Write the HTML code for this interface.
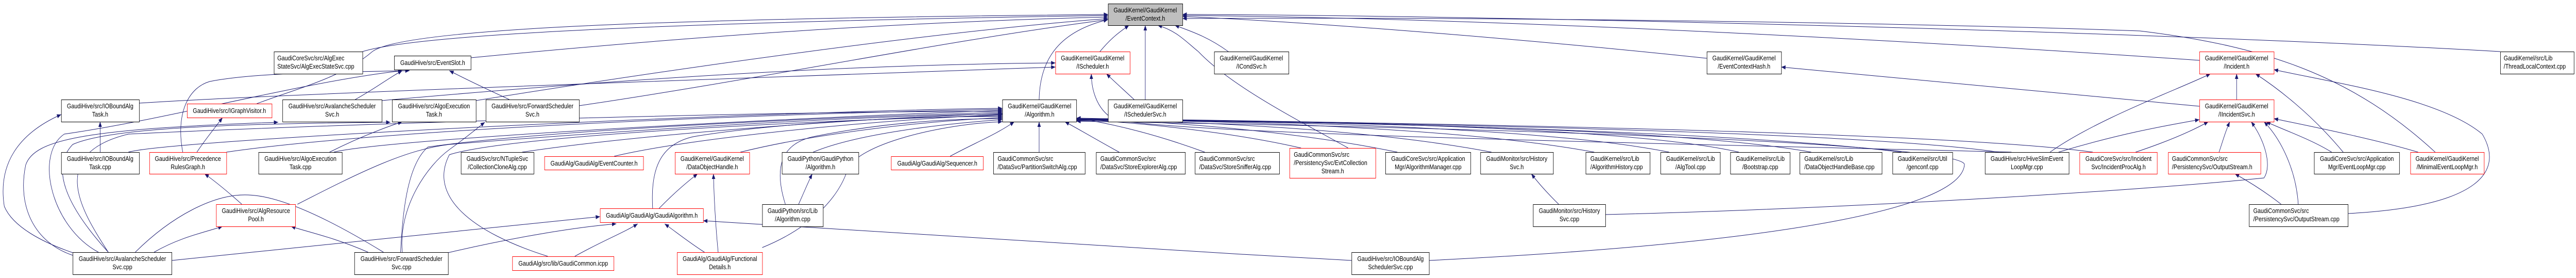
<!DOCTYPE html>
<html><head><meta charset="utf-8"><style>
html,body{margin:0;padding:0;background:#fff;width:100%;height:100%;overflow:hidden;}
svg{display:block;width:100vw;height:100vh;}
text{font-family:"Liberation Sans",Arial,sans-serif;font-size:13px;fill:#000;}
.b{fill:#fff;stroke:#000;stroke-width:1;}
.r{fill:#fff;stroke:#ff0000;stroke-width:1;}
.g{fill:#bfbfbf;stroke:#000;stroke-width:1;}
.e{fill:none;stroke:#191970;stroke-width:1;}
</style></head><body>
<svg viewBox="0 0 6019 539" preserveAspectRatio="none" xmlns="http://www.w3.org/2000/svg">
<defs><marker id="a" markerUnits="userSpaceOnUse" markerWidth="11" markerHeight="8" refX="10" refY="4" orient="auto"><path d="M0,0 L10,4 L0,8 z" fill="#191970"/></marker></defs>
<rect width="6019" height="539" fill="#fff"/>
<g class="e" marker-end="url(#a)">
<path d="M2570,100 C2600,70 2620,60 2638,49"/>
<path d="M2676,193 L2676,49"/>
<path d="M2428,193 C2430,110 2480,60 2589,38"/>
<path d="M2870,100 C2820,70 2780,60 2745,49"/>
<path d="M3150,287 C3050,240 2880,170 2800,100 C2770,80 2750,60 2705,49"/>
<path d="M847,100 C1000,60 1800,40 2589,30"/>
<path d="M1100,112 C1500,80 2000,45 2589,33"/>
<path d="M600,201 C700,170 800,150 870,100 C950,50 1700,35 2589,28"/>
<path d="M1112,195 C1600,130 2200,60 2589,36"/>
<path d="M1353,205 C1800,150 2200,80 2589,38"/>
<path d="M325,200 C700,180 1800,150 2466,130"/>
<path d="M892,195 C1500,150 2000,125 2466,122"/>
<path d="M3988,113 C3500,70 3000,40 2763,32"/>
<path d="M5139,117 C4500,80 3500,35 2763,30"/>
<path d="M5842,100 C5000,60 3500,30 2763,28"/>
<path d="M5690,295 C5500,150 5300,90 5000,60 C4500,45 3500,32 2763,36"/>
<path d="M2650,193 C2620,170 2600,155 2585,143"/>
<path d="M4700,295 C4000,280 2700,260 2600,230 C2560,210 2550,170 2550,143"/>
<path d="M5139,206 C4700,170 4300,140 4162,130"/>
<path d="M5226,193 L5226,143"/>
<path d="M5475,295 C5400,220 5320,170 5270,143"/>
<path d="M5486,414 C5800,400 5850,330 5800,260 C5700,190 5450,160 5313,135"/>
<path d="M4790,295 C4900,230 5100,170 5165,143"/>
<path d="M4810,295 C4950,260 5050,245 5139,232"/>
<path d="M4990,295 C5080,270 5130,250 5160,236"/>
<path d="M5185,295 C5195,270 5200,255 5210,236"/>
<path d="M5370,396 C5365,330 5330,270 5290,236"/>
<path d="M3751,416 C4300,405 5000,370 5290,345 C5310,320 5290,270 5260,236"/>
<path d="M5448,295 C5400,270 5330,250 5295,236"/>
<path d="M5650,295 C5550,270 5400,245 5313,230"/>
<path d="M5330,396 C5290,370 5250,350 5222,337"/>
<path d="M2220,303 C2270,280 2330,260 2370,236"/>
<path d="M2428,295 L2428,236"/>
<path d="M2615,295 C2560,270 2520,250 2488,236"/>
<path d="M2815,295 C2700,260 2600,240 2515,229"/>
<path d="M3040,287 C2900,260 2700,240 2515,231"/>
<path d="M3265,295 C3000,250 2700,235 2515,230"/>
<path d="M3485,295 C3200,250 2800,235 2515,232"/>
<path d="M3725,295 C3400,245 2800,232 2515,233"/>
<path d="M3900,295 C3600,245 2900,232 2515,234"/>
<path d="M4063,295 C3800,245 3000,232 2515,233"/>
<path d="M4232,295 C3900,245 3000,235 2515,232"/>
<path d="M4443,295 C4000,250 3000,235 2515,231"/>
<path d="M4670,295 C4300,250 3000,236 2515,230"/>
<path d="M4890,295 C4500,250 3000,236 2515,229"/>
<path d="M1900,295 C2000,260 2200,240 2342,232"/>
<path d="M1835,396 C1810,330 1820,280 1900,265 C2050,240 2200,230 2342,230"/>
<path d="M1730,295 C1900,260 2150,235 2342,228"/>
<path d="M1525,404 C1520,330 1540,280 1620,265 C1800,240 2100,225 2342,226"/>
<path d="M1435,303 C1600,270 2000,235 2342,222"/>
<path d="M1220,295 C1500,260 2000,230 2342,220"/>
<path d="M1781,480 C1900,440 1960,380 1980,330 C2000,280 2200,240 2342,236"/>
<path d="M780,295 C900,270 1800,230 2342,214"/>
<path d="M529,295 C900,250 1800,220 2342,212"/>
<path d="M300,295 C400,270 1800,215 2342,210"/>
<path d="M936,489 C940,420 950,320 1000,285 C1300,250 2000,225 2342,218"/>
<path d="M253,489 C200,420 100,300 300,260 C800,240 1800,215 2342,216"/>
<path d="M1280,497 C1100,450 1000,380 1050,300 C1200,260 2000,230 2342,224"/>
<path d="M695,396 C850,330 950,290 1050,280 C1500,250 2000,225 2342,221"/>
<path d="M234,295 L234,236"/>
<path d="M170,490 C100,470 30,440 10,400 C-5,320 40,260 143,222"/>
<path d="M170,495 C80,470 40,400 60,320 C80,270 200,250 650,237"/>
<path d="M253,489 C200,440 100,340 170,280 C250,250 500,240 912,237"/>
<path d="M230,489 C120,440 80,300 150,260 C400,230 700,160 940,137"/>
<path d="M401,505 C800,470 1200,440 1402,420"/>
<path d="M360,489 C420,460 480,450 520,439"/>
<path d="M860,489 C780,460 720,450 680,439"/>
<path d="M1047,490 C1200,460 1350,440 1440,434"/>
<path d="M940,489 C930,400 1000,320 1050,290 C1100,260 1120,245 1133,237"/>
<path d="M1190,193 C1130,170 1080,150 1050,137"/>
<path d="M830,193 C880,170 910,150 940,137"/>
<path d="M770,295 C830,270 890,250 940,236"/>
<path d="M460,295 C480,270 500,250 520,228"/>
<path d="M427,295 C410,220 440,170 490,158 C600,140 800,140 957,137"/>
<path d="M565,396 C530,370 500,350 478,337"/>
<path d="M1343,497 C1400,470 1460,450 1490,434"/>
<path d="M1646,489 C1610,470 1580,450 1553,434"/>
<path d="M1678,489 C1670,420 1668,370 1667,337"/>
<path d="M1540,404 C1580,370 1610,350 1630,337"/>
<path d="M3158,505 C2600,480 2000,445 1643,428"/>
<path d="M1866,396 C1880,370 1890,350 1898,337"/>
<path d="M3642,396 C3610,370 3590,350 3578,337"/>
<path d="M3339,505 C4200,470 4580,400 4590,320 C4600,290 4000,255 2515,235"/>
</g>
<path class="e" d="M316,489 C400,420 500,375 580,378 C660,380 780,430 896,489"/>

<rect class="g" x="2589.5" y="7.5" width="174" height="42"/>
<text x="2676" y="24" text-anchor="middle">GaudiKernel/GaudiKernel</text><text x="2676" y="40" text-anchor="middle">/EventContext.h</text>

<rect class="b" x="640.5" y="100.5" width="207" height="43"/>
<text x="648" y="117">GaudiCoreSvc/src/AlgExec</text><text x="648" y="133">StateSvc/AlgExecStateSvc.cpp</text>
<rect class="b" x="921.5" y="108.5" width="179" height="27"/>
<text x="1011" y="126" text-anchor="middle">GaudiHive/src/EventSlot.h</text>
<rect class="r" x="2466.5" y="100.5" width="174" height="43"/>
<text x="2553" y="117" text-anchor="middle">GaudiKernel/GaudiKernel</text><text x="2553" y="133" text-anchor="middle">/IScheduler.h</text>
<rect class="b" x="2837.5" y="100.5" width="174" height="43"/>
<text x="2924" y="117" text-anchor="middle">GaudiKernel/GaudiKernel</text><text x="2924" y="133" text-anchor="middle">/ICondSvc.h</text>
<rect class="b" x="3988.5" y="100.5" width="174" height="43"/>
<text x="4075" y="117" text-anchor="middle">GaudiKernel/GaudiKernel</text><text x="4075" y="133" text-anchor="middle">/EventContextHash.h</text>
<rect class="r" x="5139.5" y="100.5" width="174" height="43"/>
<text x="5226" y="117" text-anchor="middle">GaudiKernel/GaudiKernel</text><text x="5226" y="133" text-anchor="middle">/Incident.h</text>
<rect class="b" x="5842.5" y="100.5" width="172" height="43"/>
<text x="5850" y="117">GaudiKernel/src/Lib</text><text x="5850" y="133">/ThreadLocalContext.cpp</text>

<rect class="b" x="143.5" y="193.5" width="182" height="43"/>
<text x="234" y="210" text-anchor="middle">GaudiHive/src/IOBoundAlg</text><text x="234" y="226" text-anchor="middle">Task.h</text>
<rect class="r" x="437.5" y="201.5" width="198" height="27"/>
<text x="536" y="219" text-anchor="middle">GaudiHive/src/IGraphVisitor.h</text>
<rect class="b" x="660.5" y="193.5" width="232" height="43"/>
<text x="776" y="210" text-anchor="middle">GaudiHive/src/AvalancheScheduler</text><text x="776" y="226" text-anchor="middle">Svc.h</text>
<rect class="b" x="916.5" y="193.5" width="196" height="43"/>
<text x="1014" y="210" text-anchor="middle">GaudiHive/src/AlgoExecution</text><text x="1014" y="226" text-anchor="middle">Task.h</text>
<rect class="b" x="1135.5" y="193.5" width="218" height="43"/>
<text x="1244" y="210" text-anchor="middle">GaudiHive/src/ForwardScheduler</text><text x="1244" y="226" text-anchor="middle">Svc.h</text>
<rect class="b" x="2342.5" y="193.5" width="173" height="43"/>
<text x="2429" y="210" text-anchor="middle">GaudiKernel/GaudiKernel</text><text x="2429" y="226" text-anchor="middle">/Algorithm.h</text>
<rect class="b" x="2589.5" y="193.5" width="174" height="43"/>
<text x="2676" y="210" text-anchor="middle">GaudiKernel/GaudiKernel</text><text x="2676" y="226" text-anchor="middle">/ISchedulerSvc.h</text>
<rect class="r" x="5139.5" y="193.5" width="174" height="43"/>
<text x="5226" y="210" text-anchor="middle">GaudiKernel/GaudiKernel</text><text x="5226" y="226" text-anchor="middle">/IIncidentSvc.h</text>

<rect class="b" x="143.5" y="295.5" width="182" height="42"/>
<text x="234" y="312" text-anchor="middle">GaudiHive/src/IOBoundAlg</text><text x="234" y="328" text-anchor="middle">Task.cpp</text>
<rect class="r" x="349.5" y="295.5" width="180" height="42"/>
<text x="439" y="312" text-anchor="middle">GaudiHive/src/Precedence</text><text x="439" y="328" text-anchor="middle">RulesGraph.h</text>
<rect class="b" x="604.5" y="295.5" width="195" height="42"/>
<text x="702" y="312" text-anchor="middle">GaudiHive/src/AlgoExecution</text><text x="702" y="328" text-anchor="middle">Task.cpp</text>
<rect class="b" x="1077.5" y="295.5" width="170" height="42"/>
<text x="1162" y="312" text-anchor="middle">GaudiSvc/src/NTupleSvc</text><text x="1162" y="328" text-anchor="middle">/CollectionCloneAlg.cpp</text>
<rect class="r" x="1272.5" y="303.5" width="231" height="26"/>
<text x="1388" y="321" text-anchor="middle">GaudiAlg/GaudiAlg/EventCounter.h</text>
<rect class="r" x="1577.5" y="295.5" width="174" height="42"/>
<text x="1664" y="312" text-anchor="middle">GaudiKernel/GaudiKernel</text><text x="1664" y="328" text-anchor="middle">/DataObjectHandle.h</text>
<rect class="b" x="1827.5" y="295.5" width="179" height="42"/>
<text x="1917" y="312" text-anchor="middle">GaudiPython/GaudiPython</text><text x="1917" y="328" text-anchor="middle">/Algorithm.h</text>
<rect class="r" x="2082.5" y="303.5" width="215" height="26"/>
<text x="2190" y="321" text-anchor="middle">GaudiAlg/GaudiAlg/Sequencer.h</text>
<rect class="b" x="2321.5" y="295.5" width="214" height="42"/>
<text x="2331" y="312">GaudiCommonSvc/src</text><text x="2331" y="328">/DataSvc/PartitionSwitchAlg.cpp</text>
<rect class="b" x="2561.5" y="295.5" width="208" height="42"/>
<text x="2571" y="312">GaudiCommonSvc/src</text><text x="2571" y="328">/DataSvc/StoreExplorerAlg.cpp</text>
<rect class="b" x="2792.5" y="295.5" width="197" height="42"/>
<text x="2802" y="312">GaudiCommonSvc/src</text><text x="2802" y="328">/DataSvc/StoreSnifferAlg.cpp</text>
<rect class="r" x="3013.5" y="287.5" width="201" height="58"/>
<text x="3023" y="304">GaudiCommonSvc/src</text><text x="3023" y="320">/PersistencySvc/EvtCollection</text><text x="3114" y="336" text-anchor="middle">Stream.h</text>
<rect class="b" x="3237.5" y="295.5" width="199" height="42"/>
<text x="3337" y="312" text-anchor="middle">GaudiCoreSvc/src/Application</text><text x="3337" y="328" text-anchor="middle">Mgr/AlgorithmManager.cpp</text>
<rect class="b" x="3459.5" y="295.5" width="170" height="42"/>
<text x="3544" y="312" text-anchor="middle">GaudiMonitor/src/History</text><text x="3544" y="328" text-anchor="middle">Svc.h</text>
<rect class="b" x="3705.5" y="295.5" width="150" height="42"/>
<text x="3716" y="312">GaudiKernel/src/Lib</text><text x="3716" y="328">/AlgorithmHistory.cpp</text>
<rect class="b" x="3880.5" y="295.5" width="139" height="42"/>
<text x="3950" y="312" text-anchor="middle">GaudiKernel/src/Lib</text><text x="3950" y="328" text-anchor="middle">/AlgTool.cpp</text>
<rect class="b" x="4043.5" y="295.5" width="139" height="42"/>
<text x="4113" y="312" text-anchor="middle">GaudiKernel/src/Lib</text><text x="4113" y="328" text-anchor="middle">/Bootstrap.cpp</text>
<rect class="b" x="4205.5" y="295.5" width="192" height="42"/>
<text x="4216" y="312">GaudiKernel/src/Lib</text><text x="4216" y="328">/DataObjectHandleBase.cpp</text>
<rect class="b" x="4422.5" y="295.5" width="140" height="42"/>
<text x="4492" y="312" text-anchor="middle">GaudiKernel/src/Util</text><text x="4492" y="328" text-anchor="middle">/genconf.cpp</text>
<rect class="b" x="4638.5" y="295.5" width="196" height="42"/>
<text x="4736" y="312" text-anchor="middle">GaudiHive/src/HiveSlimEvent</text><text x="4736" y="328" text-anchor="middle">LoopMgr.cpp</text>
<rect class="r" x="4859.5" y="295.5" width="181" height="42"/>
<text x="4950" y="312" text-anchor="middle">GaudiCoreSvc/src/Incident</text><text x="4950" y="328" text-anchor="middle">Svc/IncidentProcAlg.h</text>
<rect class="r" x="5066.5" y="295.5" width="216" height="42"/>
<text x="5075" y="312">GaudiCommonSvc/src</text><text x="5075" y="328">/PersistencySvc/OutputStream.h</text>
<rect class="b" x="5407.5" y="295.5" width="199" height="42"/>
<text x="5507" y="312" text-anchor="middle">GaudiCoreSvc/src/Application</text><text x="5507" y="328" text-anchor="middle">Mgr/EventLoopMgr.cpp</text>
<rect class="r" x="5632.5" y="295.5" width="172" height="42"/>
<text x="5718" y="312" text-anchor="middle">GaudiKernel/GaudiKernel</text><text x="5718" y="328" text-anchor="middle">/MinimalEventLoopMgr.h</text>

<rect class="r" x="505.5" y="396.5" width="185" height="43"/>
<text x="598" y="413" text-anchor="middle">GaudiHive/src/AlgResource</text><text x="598" y="429" text-anchor="middle">Pool.h</text>
<rect class="r" x="1402.5" y="404.5" width="241" height="27"/>
<text x="1523" y="422" text-anchor="middle">GaudiAlg/GaudiAlg/GaudiAlgorithm.h</text>
<rect class="b" x="1781.5" y="396.5" width="142" height="43"/>
<text x="1852" y="413" text-anchor="middle">GaudiPython/src/Lib</text><text x="1852" y="429" text-anchor="middle">/Algorithm.cpp</text>
<rect class="b" x="3582.5" y="396.5" width="169" height="43"/>
<text x="3667" y="413" text-anchor="middle">GaudiMonitor/src/History</text><text x="3667" y="429" text-anchor="middle">Svc.cpp</text>
<rect class="b" x="5255.5" y="396.5" width="231" height="43"/>
<text x="5265" y="413">GaudiCommonSvc/src</text><text x="5265" y="429">/PersistencySvc/OutputStream.cpp</text>

<rect class="b" x="170.5" y="489.5" width="231" height="43"/>
<text x="286" y="506" text-anchor="middle">GaudiHive/src/AvalancheScheduler</text><text x="286" y="522" text-anchor="middle">Svc.cpp</text>
<rect class="b" x="828.5" y="489.5" width="219" height="43"/>
<text x="938" y="506" text-anchor="middle">GaudiHive/src/ForwardScheduler</text><text x="938" y="522" text-anchor="middle">Svc.cpp</text>
<rect class="r" x="1197.5" y="497.5" width="237" height="27"/>
<text x="1316" y="515" text-anchor="middle">GaudiAlg/src/lib/GaudiCommon.icpp</text>
<rect class="r" x="1582.5" y="489.5" width="199" height="43"/>
<text x="1682" y="506" text-anchor="middle">GaudiAlg/GaudiAlg/Functional</text><text x="1682" y="522" text-anchor="middle">Details.h</text>
<rect class="b" x="3158.5" y="489.5" width="181" height="43"/>
<text x="3249" y="506" text-anchor="middle">GaudiHive/src/IOBoundAlg</text><text x="3249" y="522" text-anchor="middle">SchedulerSvc.cpp</text>
</svg>
</body></html>
